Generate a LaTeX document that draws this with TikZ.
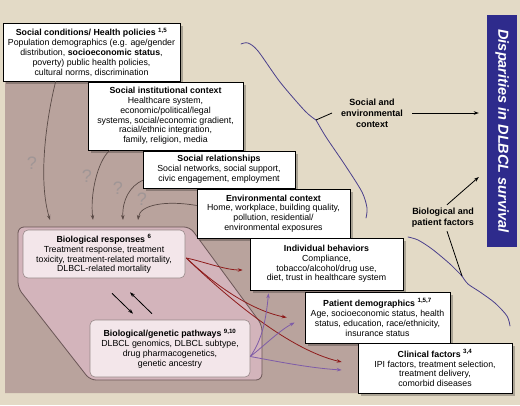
\documentclass[tikz,border=0pt]{standalone}
\usepackage{fontspec}
\setmainfont{Liberation Sans}
\usetikzlibrary{shadows,arrows.meta,calc}
\definecolor{bg}{HTML}{E3DAC6}
\definecolor{mauve}{HTML}{B9A39D}
\definecolor{pinkpoly}{HTML}{D3B4BB}
\definecolor{pinkbox}{HTML}{F3E6EA}
\definecolor{titleblue}{HTML}{2E2B8C}
\definecolor{redarr}{HTML}{8E1B1B}
\definecolor{purparr}{HTML}{7E5CA8}
\definecolor{bracec}{HTML}{4A3F8C}
\definecolor{grayarr}{HTML}{5A4A46}
\definecolor{qgray}{HTML}{A09696}
\definecolor{polyline}{HTML}{6A5656}
\begin{document}
\begin{tikzpicture}[x=1pt,y=-1pt,
  box/.style={draw=black, line width=0.6pt, fill=white, align=center,
    font=\fontsize{8.8}{9.8}\selectfont, inner sep=1pt,
    drop shadow={shadow xshift=3pt, shadow yshift=-3pt, opacity=0.25, fill=black}},
  biobox/.style={draw=polyline!70, line width=0.6pt, fill=pinkbox, rounded corners=5pt,
    align=center, font=\fontsize{8.8}{9.8}\selectfont, inner sep=1pt},
  qmark/.style={text=qgray, font=\fontsize{18}{18}\selectfont},
  grayarrow/.style={draw=grayarr, line width=0.7pt, -{Stealth[length=5pt,width=3.5pt]}},
  redarrow/.style={draw=redarr, line width=0.8pt, -{Stealth[length=5pt,width=3.5pt]}},
  purparrow/.style={draw=purparr, line width=0.8pt, -{Stealth[length=5pt,width=3.5pt]}},
  blackarrow/.style={draw=black, line width=0.8pt, -{Stealth[length=5pt,width=3.5pt]}},
  brace/.style={draw=bracec, line width=0.8pt, line cap=round},
  lbl/.style={align=center, font=\bfseries\fontsize{9}{11}\selectfont}
]
\fill[bg] (0,0) rectangle (520,405);
\useasboundingbox (0,0) rectangle (520,405);
% mauve backdrop
\fill[mauve] (5,50) -- (170,50) -- (170,120) -- (230,120) -- (230,170) -- (280,170)
  -- (280,215) -- (340,215) -- (340,265) -- (390,265) -- (390,318) -- (440,318)
  -- (440,368) -- (500,368) -- (500,393) -- (5,393) -- cycle;
% biological polygon
\draw[draw=polyline, fill=pinkpoly, rounded corners=6pt, line width=0.8pt]
  (18,227) -- (190,227) -- (262,325) -- (262,380) -- (90,380) -- (18,288) -- cycle;

% boxes
\node[box, minimum width=177pt, minimum height=58pt] (b1) at (91.5,52)
 {\textbf{Social conditions/ Health policies \textsuperscript{1,5}}\\
  Population demographics (e.g. age/gender\\
  distribution, \textbf{socioeconomic status},\\
  poverty) public health policies,\\
  cultural norms, discrimination};
\node[box, minimum width=155pt, minimum height=68pt] (b2) at (165.5,116)
 {\textbf{Social institutional context}\\
  Healthcare system,\\
  economic/political/legal\\
  systems, social/economic gradient,\\
  racial/ethnic integration,\\
  family, religion, media};
\node[box, minimum width=152pt, minimum height=37pt] (b3) at (219,169.5)
 {\textbf{Social relationships}\\
  Social networks, social support,\\
  civic engagement, employment};
\node[box, minimum width=153pt, minimum height=49pt] (b4) at (273.5,213.5)
 {\textbf{Environmental context}\\
  Home, workplace, building quality,\\
  pollution, residential/\\
  environmental exposures};
\node[box, minimum width=153pt, minimum height=52pt] (b5) at (326.5,264)
 {\textbf{Individual behaviors}\\
  Compliance,\\
  tobacco/alcohol/drug use,\\
  diet, trust in healthcare system};
\node[box, minimum width=145pt, minimum height=51pt] (b6) at (377.5,317.5)
 {\textbf{Patient demographics \textsuperscript{1,5,7}}\\
  Age, socioeconomic status, health\\
  status, education, race/ethnicity,\\
  insurance status};
\node[box, minimum width=154pt, minimum height=50pt] (b7) at (435,368)
 {\textbf{Clinical factors \textsuperscript{3,4}}\\
  IPI factors, treatment selection,\\
  treatment delivery,\\
  comorbid diseases};

% biological boxes
\node[biobox, minimum width=162pt, minimum height=48pt] (bio) at (104,254)
 {\textbf{Biological responses \textsuperscript{6}}\\
  Treatment response, treatment\\
  toxicity, treatment-related mortality,\\
  DLBCL-related mortality};
\node[biobox, minimum width=160pt, minimum height=57pt] (gen) at (170,348.5)
 {\textbf{Biological/genetic pathways \textsuperscript{9,10}}\\
  DLBCL genomics, DLBCL subtype,\\
  drug pharmacogenetics,\\
  genetic ancestry};

% two-way arrows
\draw[blackarrow] ([xshift=8pt,yshift=-15pt]bio.south) -- ([xshift=-37pt,yshift=6pt]gen.north);
\draw[blackarrow] ([xshift=-18pt,yshift=6pt]gen.north) -- ([xshift=26pt,yshift=-14pt]bio.south);

% targets on polygon top
\coordinate (t1) at (50,220);
\coordinate (t2) at (93,220);
\coordinate (t3) at (123,220);
\coordinate (t4) at (138,220);

\draw[grayarrow] ([xshift=53pt]b1.south west) .. controls (46,120) and (38,180) .. (t1);
\draw[grayarrow] ([xshift=22pt]b2.south west) .. controls (97,162) and (90,195) .. (t2);
\draw[grayarrow] ([yshift=8pt]b3.south west) .. controls (130,186) and (122,200) .. (t3);
\draw[grayarrow] ([yshift=8pt]b4.west) .. controls (165,200) and (140,205) .. (t4);

\node[qmark] (q1) at (32,163) {?};
\node[qmark] (q2) at (87,176) {?};
\node[qmark] (q3) at (118,188) {?};
\node[qmark] (q4) at (142,199) {?};

% red arrows
\draw[redarrow] ([xshift=1pt,yshift=-4pt]bio.east) .. controls (205,262) and (225,270) .. ([xshift=-7pt,yshift=-6pt]b5.west);
\draw[redarrow] ([xshift=1pt,yshift=-4pt]bio.east) .. controls (215,285) and (250,310) .. ([xshift=-18pt]b6.west);
\draw[redarrow] ([xshift=1pt,yshift=-4pt]bio.east) .. controls (230,300) and (290,350) .. ([xshift=-16pt,yshift=6pt]b7.west);

% purple arrows
\draw[purparrow] ([yshift=-8pt]gen.east) .. controls (262,340) and (266,320) .. ([xshift=-58pt,yshift=-3pt]b5.south);
\draw[purparrow] ([yshift=-8pt]gen.east) .. controls (265,345) and (280,330) .. ([xshift=-10pt,yshift=-5pt]b6.west);
\draw[purparrow] ([yshift=-8pt]gen.east) .. controls (280,362) and (310,368) .. ([xshift=-16pt,yshift=-2pt]b7.west);

% title
\node[fill=titleblue, rotate=-90, minimum width=232pt, minimum height=30pt, inner sep=0pt,
  text=white, font=\bfseries\itshape\fontsize{14.5}{16}\selectfont] (title) at (502,131)
  {Disparities in DLBCL survival};

% braces
\coordinate (cusp1) at (316,120);
\coordinate (cusp2) at (462,276);
\draw[brace] plot[smooth] coordinates {(241,44) (248,43) (258,51) (280,82) (305,111) (316,120)};
\draw[brace] plot[smooth] coordinates {(316,120) (326,137) (345,165) (362,192) (367,208) (366,218)};
\draw[brace] plot[smooth] coordinates {(408,237) (418,240) (432,249) (450,264) (462,276)};
\draw[brace] plot[smooth] coordinates {(462,276) (468,284) (480,292) (495,303) (507,316) (510,326)};

% labels
\node[lbl] (se) at (372,113) {Social and\\ environmental\\ context};
\node[lbl] (bp) at (443,218) {Biological and\\ patient factors};
\draw[black, line width=0.8pt] (cusp1) -- ++(16,-7);
\draw[blackarrow, shorten >=8pt] ([xshift=6pt]se.east) -- (se.east -| title.south);
\draw[blackarrow] ([xshift=4pt]bp.north) -- ($(title.south)+(-8,46)$);
\draw[black, line width=0.8pt] ([xshift=4pt]bp.south) -- (cusp2);
\end{tikzpicture}
\end{document}
